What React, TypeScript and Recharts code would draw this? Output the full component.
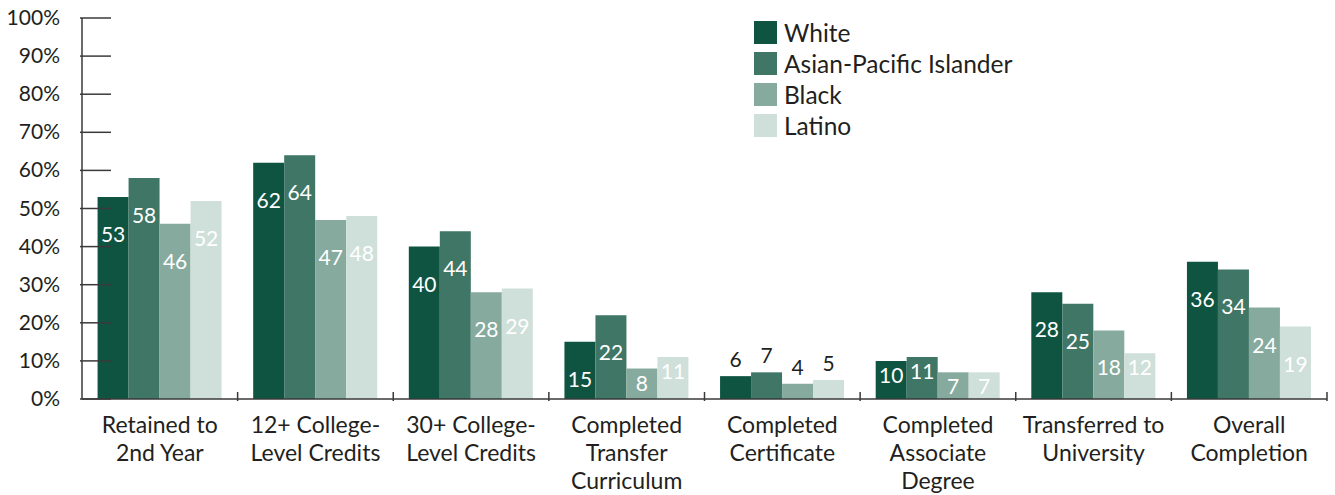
import React from "react";
import { BarChart, Bar, XAxis, YAxis, Legend, LabelList } from "recharts";

const categoryLines = [
  ["Retained to", "2nd Year"],
  ["12+ College-", "Level Credits"],
  ["30+ College-", "Level Credits"],
  ["Completed", "Transfer", "Curriculum"],
  ["Completed", "Certificate"],
  ["Completed", "Associate", "Degree"],
  ["Transferred to", "University"],
  ["Overall", "Completion"],
];

const white = [53, 62, 40, 15, 6, 10, 28, 36];
const asianPacific = [58, 64, 44, 22, 7, 11, 25, 34];
const black = [46, 47, 28, 8, 4, 7, 18, 24];
const latino = [52, 48, 29, 11, 5, 7, 12, 19];

const yTicks = [0, 10, 20, 30, 40, 50, 60, 70, 80, 90, 100];

const series = [
  { key: "white", name: "White", color: "#0f5441", values: white },
  { key: "asian", name: "Asian-Pacific Islander", color: "#3f7666", values: asianPacific },
  { key: "black", name: "Black", color: "#86ab9e", values: black },
  { key: "latino", name: "Latino", color: "#cfdfd9", values: latino },
];

// labels drawn above the bars instead of inside
const labelsAbove = ["Completed Certificate"];

const data = categoryLines.map((lines, i) => {
  const row: Record<string, any> = { name: lines.join(" ") };
  series.forEach((s) => (row[s.key] = s.values[i]));
  return row;
});

const W = 1335;
const H = 495;
const margin = { top: 18, right: 8, bottom: 0, left: 0 };
const Y_AXIS_W = 82;
const X_AXIS_H = 96;
const bandW = (W - margin.left - margin.right - Y_AXIS_W) / categoryLines.length;

const FONT = "Lato, 'Liberation Sans', sans-serif";
const TEXT = "#231f20";

const YTick = (props: any) => {
  const { x, y, payload } = props;
  return (
    <g>
      <line x1={x} x2={x + 31} y1={y} y2={y} stroke="#3a3a3a" strokeWidth={1.5} />
      <text x={x - 20} y={y} dy={7} textAnchor="end" fontSize={21} fill={TEXT} fontFamily={FONT}>
        {payload.value}%
      </text>
    </g>
  );
};

const XTick = (props: any) => {
  const { x, y, index } = props;
  const lines = categoryLines[index] || [];
  return (
    <g>
      <line x1={x + bandW / 2} x2={x + bandW / 2} y1={y} y2={y - 9} stroke="#3a3a3a" strokeWidth={1.5} />
      <text textAnchor="middle" fontSize={23} fill={TEXT} fontFamily={FONT}>
        {lines.map((l: string, i: number) => (
          <tspan key={i} x={x} y={y + 32 + i * 28}>
            {l}
          </tspan>
        ))}
      </text>
    </g>
  );
};

const makeLabel = (props: any) => {
  const { x, y, width, value, index } = props;
  const above = labelsAbove.includes(data[index].name);
  const cx = Number(x) + Number(width) / 2;
  const cy = above ? Number(y) - 16 : Number(y) + (value >= 15 ? 38 : 15);
  return (
    <text
      x={cx}
      y={cy}
      dy={7}
      textAnchor="middle"
      fontSize={21}
      fill={above ? TEXT : "#ffffff"}
      fontFamily={FONT}
    >
      {value}
    </text>
  );
};

const LegendBox = () => (
  <div style={{ fontFamily: FONT }}>
    {series.map((s) => (
      <div key={s.key} style={{ display: "flex", alignItems: "center", height: 31 }}>
        <div style={{ width: 23, height: 23, background: s.color, marginRight: 7 }} />
        <span style={{ fontSize: 24.5, color: TEXT }}>{s.name}</span>
      </div>
    ))}
  </div>
);

export default function App() {
  return (
    <div style={{ position: "absolute", left: 0, top: 0, background: "#fff" }}>
      <BarChart width={W} height={H} data={data} margin={margin} barCategoryGap="10%" barGap={0}>
        <XAxis
          dataKey="name"
          height={X_AXIS_H}
          interval={0}
          tickSize={0}
          tickLine={false}
          tick={XTick}
          axisLine={{ stroke: "#3a3a3a", strokeWidth: 1.5 }}
        />
        <YAxis
          width={Y_AXIS_W}
          domain={[0, 100]}
          ticks={yTicks}
          interval={0}
          tickSize={0}
          tickLine={false}
          tick={YTick}
          axisLine={{ stroke: "#3a3a3a", strokeWidth: 1.5 }}
        />
        <Legend
          layout="vertical"
          align="center"
          verticalAlign="middle"
          wrapperStyle={{ top: 17, left: 754, width: 320 }}
          content={LegendBox}
        />
        {series.map((s) => (
          <Bar key={s.key} dataKey={s.key} name={s.name} fill={s.color} isAnimationActive={false}>
            <LabelList dataKey={s.key} content={makeLabel} />
          </Bar>
        ))}
      </BarChart>
    </div>
  );
}
